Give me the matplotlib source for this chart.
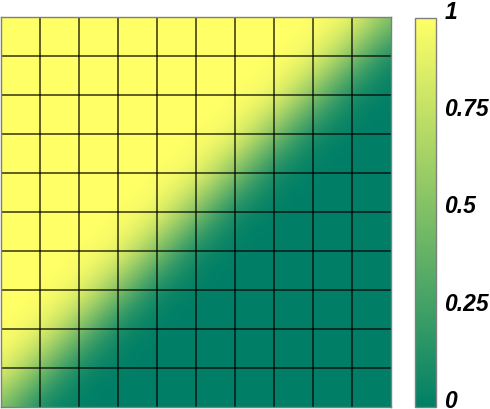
import matplotlib
matplotlib.use("Agg")
import matplotlib.pyplot as plt
import numpy as np

# valeurs aux noeuds de la grille (ligne 0 = bas, colonne 0 = gauche)
valeurs = [
    [0.5, 0, 0, 0, 0, 0, 0, 0, 0, 0, 0],
    [1, 0.5, 0, 0, 0, 0, 0, 0, 0, 0, 0],
    [1, 1, 0.5, 0, 0, 0, 0, 0, 0, 0, 0],
    [1, 1, 1, 0.5, 0, 0, 0, 0, 0, 0, 0],
    [1, 1, 1, 1, 0.5, 0, 0, 0, 0, 0, 0],
    [1, 1, 1, 1, 1, 0.5, 0, 0, 0, 0, 0],
    [1, 1, 1, 1, 1, 1, 0.5, 0, 0, 0, 0],
    [1, 1, 1, 1, 1, 1, 1, 0.5, 0, 0, 0],
    [1, 1, 1, 1, 1, 1, 1, 1, 0.5, 0, 0],
    [1, 1, 1, 1, 1, 1, 1, 1, 1, 0.5, 0],
    [1, 1, 1, 1, 1, 1, 1, 1, 1, 1, 0.5],
]
ticks_cb = [0, 0.25, 0.5, 0.75, 1]
labels_cb = ["0", "0.25", "0.5", "0.75", "1"]

W, H = 490, 410
fig = plt.figure(figsize=(W / 100, H / 100), dpi=100)

ax = fig.add_axes([1 / W, 2 / H, 390 / W, 390 / H])
Z = np.array(valeurs)
n = Z.shape[0] - 1
# chaque valeur centrée sur un noeud -> interpolation lisse entre noeuds
im = ax.imshow(Z, cmap="summer", vmin=0, vmax=1, origin="lower",
               extent=[-0.5, n + 0.5, -0.5, n + 0.5], interpolation="bicubic",
               aspect="auto")

# grille noire
for k in range(1, n):
    ax.axvline(k, color="black", alpha=0.63, lw=1.4)
    ax.axhline(k, color="black", alpha=0.63, lw=1.4)
ax.set_xlim(0, n)
ax.set_ylim(0, n)
ax.set_xticks([])
ax.set_yticks([])
for s in ax.spines.values():
    s.set_color("#7f7f7f")
    s.set_linewidth(1.0)

cax = fig.add_axes([415 / W, 2 / H, 21 / W, 389 / H])
cb = fig.colorbar(im, cax=cax, ticks=ticks_cb)
cb.outline.set_edgecolor("#7f7f7f")
cb.outline.set_linewidth(1.0)
cax.tick_params(length=0, pad=6)
cax.set_yticklabels(labels_cb, fontfamily="Liberation Sans", fontsize=16.5,
                    fontweight="bold", fontstyle="italic", va="baseline")

fig.savefig("out.png", dpi=100)
